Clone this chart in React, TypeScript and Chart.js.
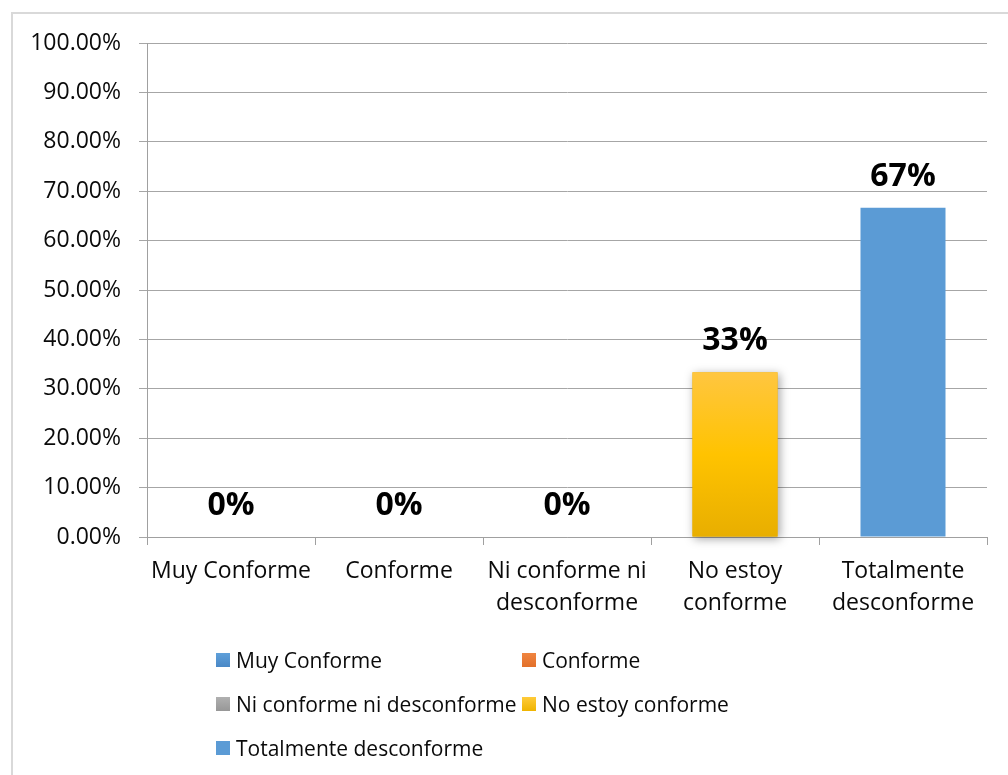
import React, { useEffect, useRef } from "react";
import { Chart, registerables } from "chart.js";

Chart.register(...registerables);

const categories: (string | string[])[] = [
  "Muy Conforme",
  "Conforme",
  ["Ni conforme ni", "desconforme"],
  ["No estoy", "conforme"],
  ["Totalmente", "desconforme"],
];
const legendLabels = [
  "Muy Conforme",
  "Conforme",
  "Ni conforme ni desconforme",
  "No estoy conforme",
  "Totalmente desconforme",
];
const values = [0, 0, 0, 33.33, 66.67];
const yTicks = [0, 10, 20, 30, 40, 50, 60, 70, 80, 90, 100];

const barColors = ["#5B9BD5", "#ED7D31", "#A5A5A5", "#FFC000", "#5B9BD5"];
const legendSwatches = [
  "linear-gradient(#5FA0DA, #4A88C6)",
  "linear-gradient(#F08540, #E2702A)",
  "linear-gradient(#B0B0B0, #979797)",
  "linear-gradient(#FFCB3A, #EFB400)",
  "#5B9BD5",
];
const FONT = "'Open Sans', 'Noto Sans', sans-serif";

const shadowPlugin = {
  id: "barShadow",
  beforeDatasetDraw(chart: any) {
    const meta = chart.getDatasetMeta(0);
    const el = meta.data[3];
    if (!el) return;
    const p = el.getProps(["x", "y", "base", "width"], true);
    const ctx = chart.ctx;
    ctx.save();
    ctx.shadowColor = "rgba(0,0,0,0.35)";
    ctx.shadowBlur = 9;
    ctx.shadowOffsetX = 2;
    ctx.shadowOffsetY = 2;
    ctx.fillStyle = "#E6AD00";
    ctx.fillRect(p.x - p.width / 2, p.y, p.width, p.base - p.y);
    ctx.restore();
  },
};

const labelPlugin = {
  id: "valueLabels",
  afterDatasetsDraw(chart: any) {
    const ctx = chart.ctx;
    const meta = chart.getDatasetMeta(0);
    ctx.save();
    ctx.font = `bold 32px ${FONT}`;
    ctx.fillStyle = "#000";
    ctx.textAlign = "center";
    ctx.textBaseline = "alphabetic";
    meta.data.forEach((el: any, i: number) => {
      ctx.fillText(Math.round(values[i]) + "%", el.x, el.y - 22);
    });
    ctx.restore();
  },
};

export default function App() {
  const ref = useRef<HTMLCanvasElement | null>(null);
  useEffect(() => {
    if (!ref.current) return;
    const chart = new Chart(ref.current, {
      type: "bar",
      data: {
        labels: categories,
        datasets: [
          {
            data: values,
            backgroundColor: (c: any) => {
              const i = c.dataIndex;
              const base = barColors[i] || barColors[0];
              if (i !== 3) return base;
              const ch = c.chart;
              const y = ch.scales && ch.scales.y;
              if (!y || !ch.chartArea) return base;
              const top = y.getPixelForValue(values[i]);
              const bottom = y.getPixelForValue(0);
              if (!isFinite(top) || !isFinite(bottom)) return base;
              const g = ch.ctx.createLinearGradient(0, top, 0, bottom);
              g.addColorStop(0, "#FFC640");
              g.addColorStop(0.5, "#FFC300");
              g.addColorStop(1, "#E8AE00");
              return g;
            },
            borderWidth: 0,
            barPercentage: 0.506,
            categoryPercentage: 1,
          },
        ],
      },
      options: {
        responsive: false,
        animation: false,
        layout: { padding: { left: 12, right: 21, top: 43, bottom: 138 } },
        plugins: {
          legend: { display: false },
          tooltip: { enabled: false },
        },
        scales: {
          x: {
            offset: true,
            grid: {
              display: true,
              drawOnChartArea: false,
              drawTicks: true,
              tickLength: 8,
              color: "#a0a0a0",
              offset: true,
            },
            border: { display: true, color: "#a0a0a0", width: 1 },
            ticks: {
              color: "#0a0a0a",
              font: { family: FONT, size: 23, lineHeight: 1.39 },
              padding: 10,
              maxRotation: 0,
              autoSkip: false,
            },
            afterFit: (s: any) => {
              s.height = 100;
            },
          },
          y: {
            min: 0,
            max: 100,
            afterBuildTicks: (s: any) => {
              s.ticks = yTicks.map((v) => ({ value: v }));
            },
            grid: {
              color: "#a6a6a6",
              lineWidth: 1,
              tickLength: 8,
              drawTicks: true,
            },
            border: { display: true, color: "#a0a0a0", width: 1 },
            ticks: {
              color: "#0a0a0a",
              font: { family: FONT, size: 23 },
              padding: 18,
              callback: (v: any) => Number(v).toFixed(2) + "%",
            },
            afterFit: (s: any) => {
              s.width = 135;
            },
          },
        },
      },
      plugins: [shadowPlugin, labelPlugin],
    } as any);
    return () => chart.destroy();
  }, []);

  const rowTops = [653, 697, 741];
  const colLefts = [216, 522];

  return (
    <div
      style={{
        position: "fixed",
        left: 0,
        top: 0,
        width: 1008,
        height: 775,
        background: "#fff",
        overflow: "hidden",
      }}
    >
      <div
        style={{
          position: "absolute",
          left: 11,
          top: 12,
          width: 1100,
          height: 900,
          border: "2px solid #d9d9d9",
          boxSizing: "border-box",
        }}
      />
      <canvas
        ref={ref}
        width={1008}
        height={775}
        style={{ position: "absolute", left: 0, top: 0, width: 1008, height: 775 }}
      />
      {legendLabels.map((t, i) => (
        <div
          key={t}
          style={{
            position: "absolute",
            left: colLefts[i % 2],
            top: rowTops[Math.floor(i / 2)] - 4,
            height: 22,
            display: "flex",
            alignItems: "center",
            whiteSpace: "nowrap",
            fontFamily: FONT,
            fontSize: 21,
            lineHeight: "22px",
            color: "#0a0a0a",
          }}
        >
          <span
            style={{
              display: "inline-block",
              width: 14,
              height: 14,
              background: legendSwatches[i],
              marginRight: 6,
            }}
          />
          <span>{t}</span>
        </div>
      ))}
    </div>
  );
}
